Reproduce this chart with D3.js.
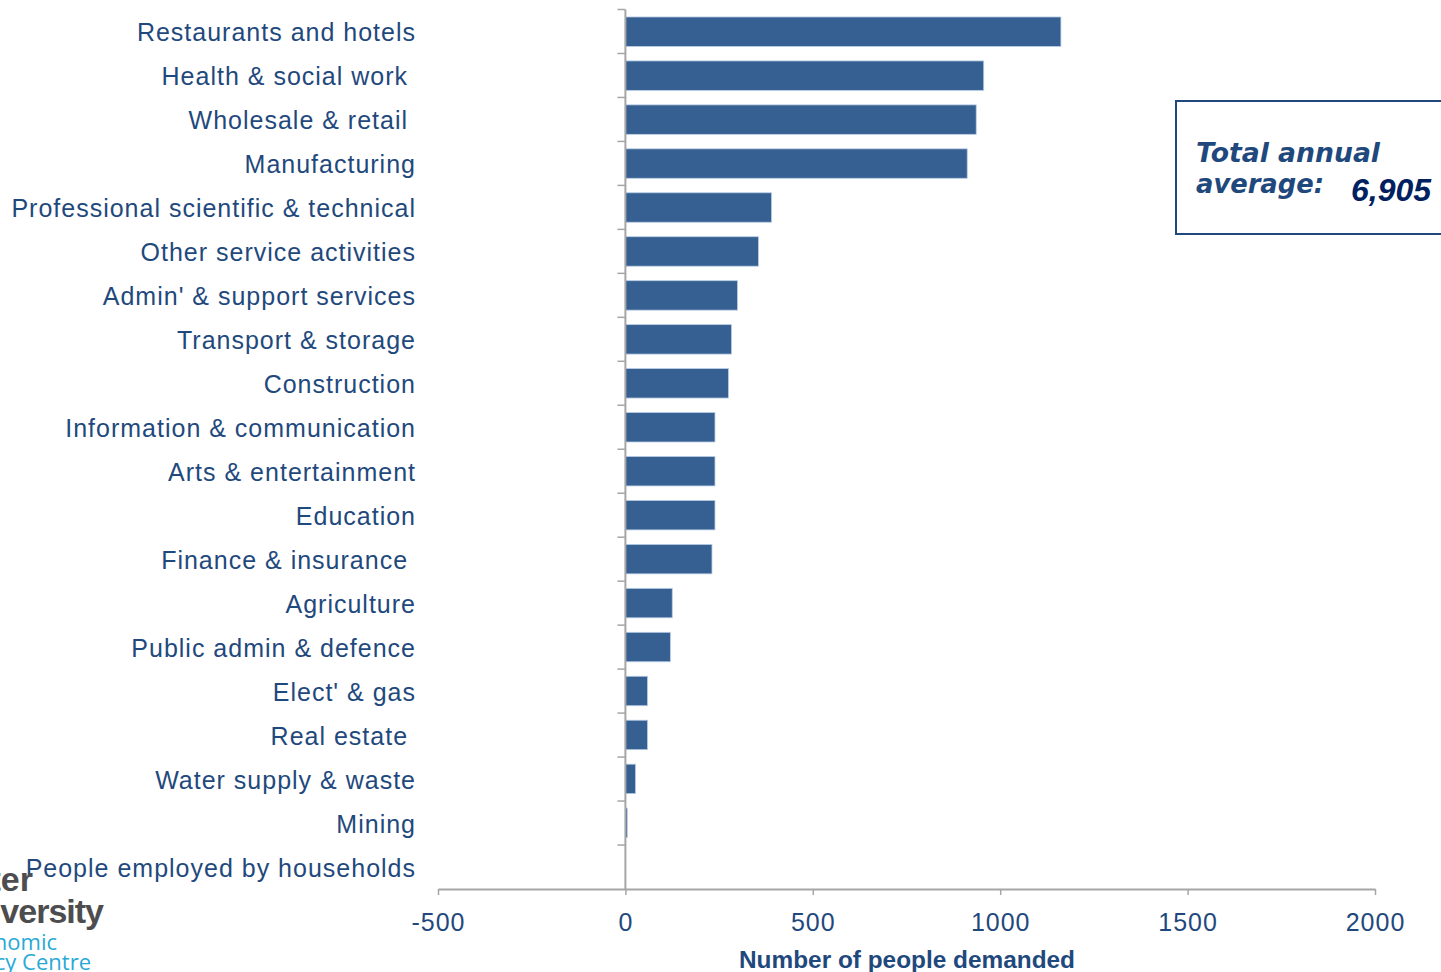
<!DOCTYPE html>
<html>
<head>
<meta charset="utf-8">
<script src="https://cdn.jsdelivr.net/npm/d3@7"></script>
<style>
  html, body { margin: 0; padding: 0; background: #fff; }
  svg { display: block; }
  text { font-family: "Liberation Sans", Arial, sans-serif; }
</style>
</head>
<body>
<svg id="chart" width="1441" height="972"></svg>
<script>
const categories = [
  "Restaurants and hotels",
  "Health & social work ",
  "Wholesale & retail ",
  "Manufacturing",
  "Professional scientific & technical",
  "Other service activities",
  "Admin' & support services",
  "Transport & storage",
  "Construction",
  "Information & communication",
  "Arts & entertainment",
  "Education",
  "Finance & insurance ",
  "Agriculture",
  "Public admin & defence",
  "Elect' & gas",
  "Real estate ",
  "Water supply & waste",
  "Mining",
  "People employed by households"
];
const values = [1162, 956, 936, 912, 390, 355, 299, 283, 275, 239, 239, 239, 231, 125, 120, 59, 59, 27, 5, 0];
const xTicks = [-500, 0, 500, 1000, 1500, 2000];
const xTitle = "Number of people demanded";
const totalLabel = ["Total annual", "average:"];
const totalValue = "6,905";

const svg = d3.select("#chart");
const textColor = "#1F497D";
const barColor = "#366092";
const axisColor = "#A6A6A6";

const x = d3.scaleLinear().domain([-500, 2000]).range([438, 1375]);
const y = d3.scaleBand().domain(categories).range([9.5, 889]).paddingInner(0.33).paddingOuter(0.17);
const yb = d3.scaleBand().domain(categories).range([9.5, 889]);

// bars
svg.append("g").selectAll("rect").data(values).join("rect")
  .attr("x", x(0))
  .attr("y", (d, i) => y(categories[i]))
  .attr("width", d => Math.max(0, x(d) - x(0)))
  .attr("height", y.bandwidth())
  .attr("fill", barColor)
  .attr("stroke", "#B9CDE5")
  .attr("stroke-width", 0.8);

// x axis
const xAxis = svg.append("g").attr("transform", "translate(0,889)")
  .call(d3.axisBottom(x).tickValues(xTicks).tickSize(6).tickSizeOuter(0).tickFormat(d => String(d)));
xAxis.select(".domain").attr("stroke", axisColor).attr("stroke-width", 2);
xAxis.selectAll(".tick line").attr("stroke", axisColor).attr("stroke-width", 1.5);
xAxis.selectAll(".tick text")
  .attr("fill", textColor).attr("font-size", 25).attr("letter-spacing", 1).attr("y", 24).attr("dy", "0.71em")
  .style("font-family", "'Liberation Sans', Arial, sans-serif");

// y axis line at zero with ticks at category boundaries
const yAxisG = svg.append("g");
yAxisG.append("line")
  .attr("x1", x(0)).attr("x2", x(0))
  .attr("y1", yb.range()[0]).attr("y2", yb.range()[1])
  .attr("stroke", axisColor).attr("stroke-width", 2);
const boundaries = categories.map(c => yb(c));
yAxisG.selectAll("line.tk").data(boundaries).join("line")
  .attr("class", "tk")
  .attr("x1", x(0) - 8).attr("x2", x(0))
  .attr("y1", d => d).attr("y2", d => d)
  .attr("stroke", axisColor).attr("stroke-width", 1.5);

// category labels
svg.append("g").selectAll("text").data(categories).join("text")
  .attr("x", 416)
  .attr("y", d => yb(d) + yb.bandwidth() / 2 + 1)
  .attr("dy", "0.35em")
  .attr("text-anchor", "end")
  .attr("fill", textColor)
  .attr("font-size", 25)
  .attr("letter-spacing", 1)
  .style("white-space", "pre")
  .text(d => d);

// x title
svg.append("text")
  .attr("x", 907).attr("y", 968)
  .attr("text-anchor", "middle")
  .attr("fill", textColor)
  .attr("font-size", 24)
  .attr("font-weight", "bold")
  .attr("textLength", 336).attr("lengthAdjust", "spacingAndGlyphs")
  .text(xTitle);

// total box
svg.append("rect")
  .attr("x", 1176).attr("y", 101).attr("width", 280).attr("height", 133)
  .attr("fill", "none").attr("stroke", textColor).attr("stroke-width", 2);
svg.append("text").attr("x", 1196).attr("y", 162)
  .attr("fill", textColor).attr("font-size", 27).attr("font-weight", "bold").attr("font-style", "italic")
  .style("font-family", "Verdana, 'DejaVu Sans', sans-serif")
  .attr("textLength", 184).attr("lengthAdjust", "spacingAndGlyphs")
  .text(totalLabel[0]);
svg.append("text").attr("x", 1196).attr("y", 193)
  .attr("fill", textColor).attr("font-size", 27).attr("font-weight", "bold").attr("font-style", "italic")
  .style("font-family", "Verdana, 'DejaVu Sans', sans-serif")
  .attr("textLength", 128).attr("lengthAdjust", "spacingAndGlyphs")
  .text(totalLabel[1]);
svg.append("text").attr("x", 1351).attr("y", 201)
  .attr("fill", "#002060").attr("font-size", 32).attr("font-weight", "bold").attr("font-style", "italic")
  .attr("textLength", 80).attr("lengthAdjust", "spacingAndGlyphs")
  .text(totalValue);

// partial logo, cropped at left edge
const logo = svg.append("g");
logo.append("text").attr("x", 33).attr("y", 891).attr("text-anchor", "end")
  .attr("fill", "#4D4D4F").attr("font-size", 34).attr("font-weight", "bold").text("Ulster");
logo.append("text").attr("x", 103).attr("y", 923).attr("text-anchor", "end")
  .attr("fill", "#4D4D4F").attr("font-size", 34).attr("font-weight", "bold")
  .attr("letter-spacing", -1).text("University");
logo.append("text").attr("x", 57).attr("y", 950).attr("text-anchor", "end")
  .attr("fill", "#29A9D6").attr("font-size", 22).style("font-family", "'Open Sans', sans-serif").text("Economic");
logo.append("text").attr("x", 91).attr("y", 970).attr("text-anchor", "end")
  .attr("fill", "#29A9D6").attr("font-size", 22).style("font-family", "'Open Sans', sans-serif").text("Policy Centre");
</script>
</body>
</html>
